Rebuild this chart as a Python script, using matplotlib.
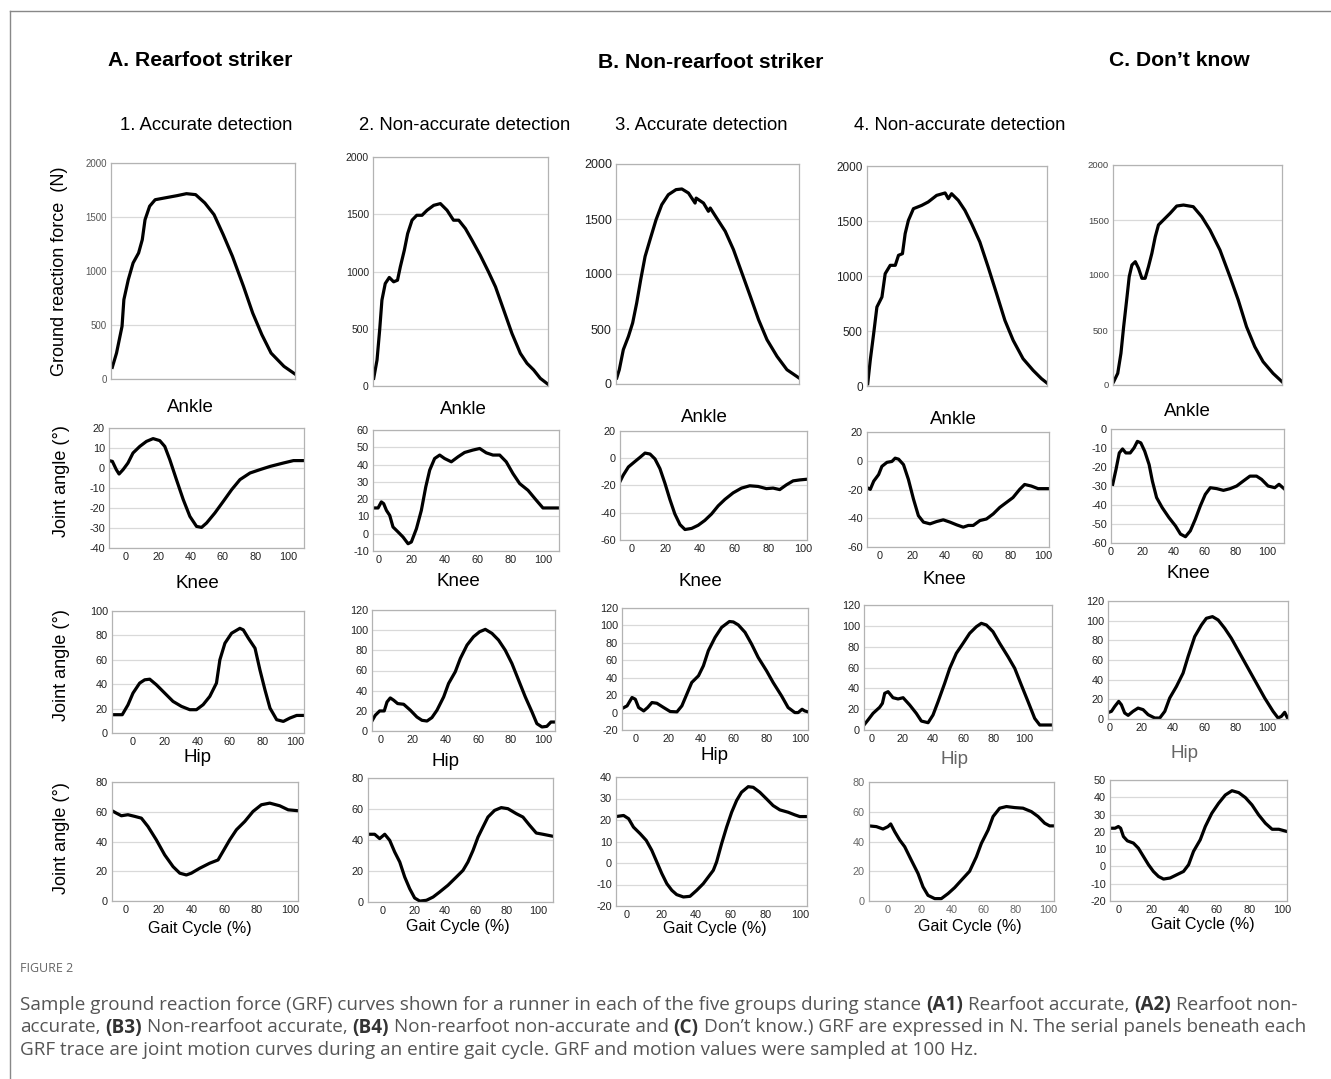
import matplotlib
matplotlib.use("Agg")
import matplotlib.pyplot as plt
from matplotlib.lines import Line2D

plt.rcParams["font.family"] = ["Liberation Sans", "DejaVu Sans"]
plt.rcParams["axes.unicode_minus"] = False

W, H = 1331, 1079

# ── Data ──────────────────────────────────────────
# GRF traces: x = % of stance, y = N
A1_GRF_X = [0.7, 3, 6, 7, 9.4, 12, 15, 17, 18.5, 21, 24, 29, 36, 41, 46, 51, 56, 61, 66, 72, 77, 82, 87, 94, 100]
A1_GRF_Y = [108, 240, 488, 735, 920, 1074, 1167, 1290, 1475, 1600, 1660, 1676, 1698, 1716, 1707, 1630, 1522, 1336, 1136, 858, 611, 410, 240, 117, 46]
A2_GRF_X = [0.4, 2.3, 3.8, 5.1, 7, 9.3, 11.8, 14, 15.6, 17.9, 19.8, 22.3, 25, 28, 30.9, 34.7, 38.5, 42.3, 46, 49,
            52.8, 56.6, 61.3, 66, 70, 74.7, 79.4, 84.2, 88, 91.8, 95.6, 100]
A2_GRF_Y = [67, 227, 488, 750, 895, 948, 910, 924, 1040, 1186, 1331, 1448, 1491, 1491, 1535, 1578, 1593, 1535, 1448, 1448,
            1375, 1273, 1142, 997, 866, 663, 459, 285, 198, 140, 67, 15]
B3_GRF_X = [0.4, 1.8, 4, 6.8, 9.1, 11.3, 13.5, 15.9, 18.6, 21.9, 25, 28.6, 32.8, 36, 39.6, 43.2, 43.8, 47.8, 50.5, 51.5,
            55, 59.7, 64.2, 68.8, 73.4, 77.9, 82.5, 88, 93.4, 100]
B3_GRF_Y = [55, 130, 312, 433, 555, 736, 948, 1160, 1312, 1494, 1630, 1721, 1767, 1773, 1736, 1645, 1690, 1645, 1570, 1600,
            1509, 1388, 1221, 1009, 797, 585, 403, 251, 130, 55]
B4_GRF_X = [0.4, 1.8, 3.7, 5.5, 8.3, 10.1, 12.9, 15.7, 17.5, 19.7, 21.2, 23, 25.8, 30.4, 34, 38.7, 43.4, 45.2, 47, 50.7,
            54.4, 58.1, 62.7, 67.3, 72, 76.6, 81.2, 86.7, 92.3, 96.9, 100]
B4_GRF_Y = [21, 233, 476, 718, 809, 1021, 1097, 1097, 1188, 1203, 1385, 1506, 1612, 1642, 1673, 1733, 1755, 1703, 1748, 1688,
            1597, 1476, 1309, 1082, 839, 597, 415, 248, 142, 67, 27]
C_GRF_X = [0.4, 2.8, 4.7, 6.3, 8.3, 9.6, 11.2, 13.2, 15.1, 17.1, 19, 21, 23, 25, 26.9, 30.8, 33.8, 37.7, 41.7, 47.5,
           52.5, 57.4, 63.3, 69.2, 74.1, 79, 83.9, 88.8, 94.7, 100]
C_GRF_Y = [30, 106, 288, 530, 803, 985, 1091, 1121, 1061, 970, 970, 1076, 1197, 1348, 1455, 1515, 1561, 1627, 1636, 1621,
           1530, 1409, 1227, 985, 773, 530, 348, 212, 106, 30]

# Joint angles: x = gait cycle (%), y = degrees
A1_ANKLE_X = [-10.3, -8.2, -5.8, -4.1, -1.6, 1.4, 4.5, 8.7, 12.8, 16.9, 21, 24.1, 27.2, 31.3, 35.5, 39.6, 43.7, 46.8, 49.9,
              55, 60.2, 65.4, 70.5, 76.7, 82.9, 89.1, 97.3, 103.5, 110]
A1_ANKLE_Y = [3.7, 3.3, -0.8, -3, -0.8, 2.5, 7.5, 10.8, 13.3, 14.7, 13.7, 10.8, 4.2, -5.8, -15.8, -24.2, -29.2, -29.7, -27.5,
              -22.5, -16.7, -10.8, -5.8, -2.5, -0.8, 0.8, 2.5, 3.7, 3.7]
A1_KNEE_X = [-12.5, -6.2, -2.7, 0.4, 4.5, 7.6, 10.7, 14.8, 19.9, 25, 30.2, 35.3, 39.4, 43.5, 47.6, 51.7, 53.8, 56.9, 61,
             66.1, 68.2, 71.3, 75.4, 78.4, 81.5, 84.6, 88.7, 92.8, 96.9, 101, 105.5]
A1_KNEE_Y = [15, 15, 23, 32.7, 40.9, 43.6, 44.1, 39.5, 32.7, 25.9, 21.8, 19.1, 19.1, 23.2, 30, 40.9, 60, 73.6, 81.8,
             85.8, 84.5, 77.7, 69.5, 51.8, 35.4, 20.4, 10.9, 9.5, 12.3, 14.4, 14.4]
A1_HIP_X = [-8.3, -5.7, -2.6, 1.4, 5.5, 9.6, 13.6, 18.7, 23.8, 28.9, 33, 37, 40, 45.1, 51.2, 56.3, 59.3, 63.4, 67.5,
            72.6, 77.6, 82.7, 87.8, 93.9, 99, 105]
A1_HIP_Y = [60.7, 59.1, 57.3, 58, 56.9, 55.7, 50.1, 41.1, 31, 23.1, 18.7, 17.5, 18.7, 22, 25.4, 27.6, 33.3, 41.1, 47.9,
            53.5, 60.2, 64.7, 65.8, 64, 61.3, 60.7]

A2_ANKLE_X = [-3.7, -0.6, 1.4, 2.8, 4.5, 6.5, 8.5, 11.6, 14.6, 17.7, 19.7, 22.8, 25.8, 28.5, 30.9, 33.9, 37, 40, 44.1,
              48.2, 52.2, 57.3, 61.4, 65.4, 69.5, 73.6, 77.6, 81.7, 85.8, 90.9, 96, 100, 109.8]
A2_ANKLE_Y = [14.9, 14.9, 18.4, 17.4, 13.5, 10.6, 3.9, 1, -1.9, -5.8, -4.8, 2.9, 13.5, 27.1, 36.8, 43.5, 45.5, 43.5, 41.6,
              44.5, 47, 48.4, 49.3, 46.8, 45.5, 45.5, 41.6, 34.8, 29, 25.1, 19.3, 14.9, 14.9]
A2_KNEE_X = [-5.1, -3.1, -0.4, 2.4, 4.1, 6.1, 8.2, 10.6, 14.3, 18.4, 22.4, 25.5, 28.6, 31.6, 34.7, 38.8, 41.8, 45.9, 49,
             53.1, 57.1, 60.8, 64.3, 68.4, 72.4, 76.5, 80.6, 84.7, 88.8, 92.9, 95.9, 99, 102, 104.5, 107]
A2_KNEE_Y = [10, 15.6, 19.9, 19.9, 28.8, 32.8, 30.5, 27.2, 26.5, 20.6, 13.9, 10.6, 9.9, 13.3, 20.6, 33.8, 47.1, 58.7, 71.9,
             85.2, 93.5, 98.4, 100.8, 96.8, 90.2, 80.2, 67, 50.4, 33.8, 18.9, 7.3, 4, 4.6, 8.9, 8.9]
A2_HIP_X = [-9.7, -5.4, -2.2, 1.1, 4.3, 7.5, 10.8, 14, 17.2, 20.4, 23.7, 28, 32.3, 36.6, 41.9, 47.3, 51.6, 54.8, 58.1,
            61.3, 64.5, 67.7, 72, 76.3, 80.6, 86, 90.3, 94.6, 98.9, 103.2, 109.7]
A2_HIP_Y = [43.7, 43.7, 40.9, 43.7, 39.8, 32.3, 25.8, 16.1, 8.6, 2.6, 0.6, 1.1, 3.2, 6.5, 10.8, 16.1, 20.4, 25.8, 33.3,
            41.9, 48.4, 54.8, 59.1, 60.9, 60.2, 57, 54.8, 49.5, 44.5, 43.7, 42.4]

B3_ANKLE_X = [-6.8, -4.9, -1.9, 1.9, 4.9, 7.8, 10.7, 13.6, 16.5, 19.4, 22.3, 25.2, 28.2, 31.1, 35, 38.8, 42.7, 46.6, 50.5,
              54.4, 59.2, 64.1, 68.9, 73.8, 78.6, 82.5, 86.4, 90.3, 94.2, 98.1, 102.3]
B3_ANKLE_Y = [-17.1, -12.4, -6.4, -2.4, 0.7, 3.8, 3.1, -0.5, -7.6, -18.3, -30.2, -40.9, -48.7, -52.3, -51.5, -49.2, -45.6,
              -40.9, -34.9, -30.2, -25.4, -21.9, -20.2, -20.7, -22.3, -21.9, -23, -19.5, -16.6, -15.9, -15.4]
B3_KNEE_X = [-8.1, -5, -2, 0, 2, 5.1, 7.5, 10.1, 13.1, 17.2, 21.2, 25.3, 28.3, 31.3, 34.3, 38.4, 41.4, 44.4, 48.5, 52.5,
             57.2, 59.6, 62.6, 66.7, 70.7, 74.7, 79.8, 83.8, 88.9, 92.9, 97, 99, 101.4, 103, 105]
B3_KNEE_Y = [4.6, 7.7, 17.3, 15.3, 5.8, 1.9, 5.8, 11.5, 10.7, 5.8, 1.2, 0.8, 7.7, 21.1, 34.5, 42.2, 53.7, 71, 86.3, 97.8,
             104.5, 104, 100.6, 92.1, 78.6, 63.3, 47.9, 34.5, 19.2, 5.8, 0, 0, 3.8, 1.9, 0.8]
B3_HIP_X = [-6.3, -1.9, 1, 3.8, 7.7, 11.2, 14.4, 17.3, 20.2, 23.1, 26, 28.8, 32.7, 36.5, 40.4, 44.2, 47.1, 50, 51.9, 54.8,
            57.7, 60.6, 63.5, 66.3, 70.2, 73.1, 76.9, 80.8, 84.6, 88.5, 93.3, 97.1, 100, 104.2]
B3_HIP_Y = [21.6, 22.1, 20.6, 16.7, 13.6, 10.5, 5.9, 0.5, -4.9, -9.6, -12.7, -14.7, -15.8, -15.5, -12.7, -9.6, -6.5, -3.4,
            0.5, 9, 16.7, 23.6, 29.1, 32.9, 35.5, 35.2, 32.9, 29.8, 26.7, 24.7, 23.6, 22.4, 21.6, 21.6]

B4_ANKLE_X = [-7.5, -5.5, -3.4, -0.4, 1.6, 4.7, 7.7, 9.7, 11.8, 14.8, 17.8, 20.9, 23.9, 27, 31, 35, 39.1, 43.2, 47.3,
              51.3, 54.4, 57.4, 61.5, 65.5, 69.6, 73.6, 77.7, 81.7, 85.8, 88.8, 92.9, 97, 103.7]
B4_ANKLE_Y = [-18.7, -19.9, -14.2, -9.6, -3.9, -1.1, -0.5, 1.8, 1.1, -2.7, -13, -26.7, -38.2, -42.7, -43.9, -42.3, -41.1,
              -42.7, -44.6, -46.2, -45, -45, -41.6, -40.5, -37, -32.5, -29, -25.6, -19.9, -16.5, -17.6, -19.4, -19.4]
B4_KNEE_X = [-4.8, -2.2, 1.1, 5.4, 7.2, 8.7, 10.9, 14.1, 17.4, 20.7, 25, 29.3, 32.6, 37, 40.2, 43.5, 47.8, 51.1, 55.4,
             59.8, 64.1, 68.5, 71.7, 75, 79.3, 83.7, 89.1, 93.5, 97.8, 102.2, 106.5, 109.8, 117.8]
B4_KNEE_Y = [4.8, 9.6, 16, 21.8, 25.6, 35.2, 36.8, 31, 29.8, 31, 24, 16, 8.6, 7, 14.4, 27.2, 44.8, 59.2, 73.6,
             83.2, 92.8, 99.2, 102.4, 100.8, 94.4, 83.2, 70.4, 59.2, 43.2, 27.2, 11.2, 4.8, 4.8]
B4_HIP_X = [-11.4, -6.8, -2.7, 0.4, 2.1, 4.6, 7.7, 10.8, 14.9, 19.1, 22.2, 25.3, 29.5, 33.6, 37.8, 41.9, 46.1, 51.2, 55.4,
            58.5, 62.7, 65.8, 69.9, 74.1, 79.3, 84.4, 89.6, 93.8, 97.9, 101, 103.7]
B4_HIP_Y = [50.5, 50, 48.4, 50, 51.8, 46.6, 41, 36.5, 27.5, 18.5, 9.5, 3.8, 1.6, 1.6, 5, 9, 14, 20, 29.7,
            38.7, 47.7, 56.8, 62.4, 63.5, 62.8, 62.4, 60.1, 56.8, 52.3, 50.5, 50.5]

C_ANKLE_X = [1.1, 3.2, 5.3, 7.4, 9.5, 12.3, 14.8, 16.9, 19.1, 21.6, 24.4, 26.5, 29.2, 32.8, 37.1, 41.3, 44.5, 47.7, 50.8,
             54, 57.2, 60.4, 63.6, 67.8, 72, 76.3, 80.5, 84.7, 89, 93.2, 96.4, 100.6, 104.9, 107.6, 110.8]
C_ANKLE_Y = [-29.1, -21.3, -12.6, -10.5, -12.6, -12.6, -9.9, -6.5, -7.3, -11.7, -18.7, -27.4, -36.1, -41.4, -46.6, -51,
             -55.3, -56.7, -53.6, -47.5, -40.5, -34.4, -30.9, -31.4, -32.3, -31.4, -30, -27.4, -24.8, -24.8, -26.5, -30,
             -30.9, -29.1, -31.4]
C_KNEE_X = [-0.6, 1.1, 3.2, 5.7, 7.4, 9.5, 11.7, 14.8, 18, 21.2, 24.4, 28.6, 31.8, 35, 38.1, 42.4, 46.6, 49.8, 54, 58.3,
            61.4, 65.3, 68.9, 73.1, 77.3, 82.6, 87.9, 93.2, 98.5, 103.8, 107, 109.1, 111.2, 113.3]
C_KNEE_Y = [6.8, 7.8, 12.8, 17.9, 14.5, 6.1, 3.7, 7.8, 11.1, 9.5, 4.4, 1, 1, 7.8, 21.3, 33.1, 46.6, 63.5, 83.8, 95.6,
            102.4, 104.1, 100.7, 92.2, 82.1, 66.9, 51.7, 36.5, 21.3, 7.8, 1, 2.7, 6.8, 0]
C_HIP_X = [-5.1, -2, 0, 1.4, 3.1, 5.5, 9.2, 12.2, 15.3, 18.4, 21.4, 24.5, 27.6, 31.6, 35.7, 39.8, 42.9, 45.9, 50, 53.1,
           57.1, 61.2, 65.3, 69.4, 73.5, 77.6, 81.6, 85.7, 89.8, 93.9, 98, 103]
C_HIP_Y = [22.1, 22.1, 23.1, 22.1, 17.3, 14.8, 13.5, 10.6, 5.8, 1, -2.9, -5.8, -7.3, -6.7, -4.8, -2.9, 1, 8.7, 15.4, 23.1,
           30.8, 36.5, 41.3, 43.8, 42.7, 39.8, 35.6, 29.8, 25, 21.5, 21.5, 20.2]

GAIT_TICKS = [0, 20, 40, 60, 80, 100]
GRF_TICKS = [0, 500, 1000, 1500, 2000]

# ── Layout (pixel boxes: left, top, right, bottom) ─
FRAME = "#b3b3b3"
GRID = "#d9d9d9"


def add_box(fig, l, t, r, b):
    return fig.add_axes([l / W, 1 - b / H, (r - l) / W, (b - t) / H])


def style(ax, fs, color="#222222"):
    for s in ax.spines.values():
        s.set_color(FRAME)
        s.set_linewidth(0.9)
    ax.yaxis.grid(True, color=GRID, lw=0.9)
    ax.set_axisbelow(True)
    ax.tick_params(length=0, labelsize=fs, labelcolor=color, pad=3)


fig = plt.figure(figsize=(W / 100, H / 100), dpi=100)

# GRF row
grf = [
    (A1_GRF_X, A1_GRF_Y, (111, 163, 295, 379), 7.0, "#555555"),
    (A2_GRF_X, A2_GRF_Y, (373, 157, 548, 386), 7.5, "#222222"),
    (B3_GRF_X, B3_GRF_Y, (616, 164, 799, 384), 9.0, "#222222"),
    (B4_GRF_X, B4_GRF_Y, (867, 166, 1047, 386), 8.5, "#222222"),
    (C_GRF_X, C_GRF_Y, (1113, 165, 1282, 385), 6.8, "#444444"),
]
for x, y, box, fs, col in grf:
    ax = add_box(fig, *box)
    ax.plot(x, y, color="black", lw=2.3)
    ax.set_xlim(0, 100)
    ax.set_ylim(0, 2000)
    ax.set_yticks(GRF_TICKS)
    ax.set_xticks([])
    style(ax, fs, col)

# joint rows: (x, y, box, xlim, yticks)
joints = [
    (A1_ANKLE_X, A1_ANKLE_Y, (109, 428, 304, 548), (-10.3, 110), range(-40, 21, 10)),
    (A1_KNEE_X, A1_KNEE_Y, (112, 611, 304, 733), (-12.5, 105.5), range(0, 101, 20)),
    (A1_HIP_X, A1_HIP_Y, (112, 782, 298, 901), (-8.3, 105), range(0, 81, 20)),
    (A2_ANKLE_X, A2_ANKLE_Y, (373, 430, 559, 551), (-3.7, 109.8), range(-10, 61, 10)),
    (A2_KNEE_X, A2_KNEE_Y, (372, 610, 555, 731), (-5.1, 107), range(0, 121, 20)),
    (A2_HIP_X, A2_HIP_Y, (368, 778, 553, 902), (-9.7, 109.7), range(0, 81, 20)),
    (B3_ANKLE_X, B3_ANKLE_Y, (620, 431, 807, 540), (-6.8, 102.3), range(-60, 21, 20)),
    (B3_KNEE_X, B3_KNEE_Y, (622, 608, 808, 730), (-8.1, 105), range(-20, 121, 20)),
    (B3_HIP_X, B3_HIP_Y, (616, 777, 807, 906), (-6.3, 104.2), range(-20, 41, 10)),
    (B4_ANKLE_X, B4_ANKLE_Y, (867, 432, 1049, 547), (-7.5, 103.7), range(-60, 21, 20)),
    (B4_KNEE_X, B4_KNEE_Y, (864, 605, 1052, 730), (-4.8, 117.8), range(0, 121, 20)),
    (B4_HIP_X, B4_HIP_Y, (869, 782, 1054, 901), (-11.4, 103.7), range(0, 81, 20)),
    (C_ANKLE_X, C_ANKLE_Y, (1111, 429, 1284, 543), (0.4, 110.8), range(-60, 1, 10)),
    (C_KNEE_X, C_KNEE_Y, (1108, 601, 1288, 719), (-1.1, 113.3), range(0, 121, 20)),
    (C_HIP_X, C_HIP_Y, (1110, 780, 1287, 901), (-5.1, 103), range(-20, 51, 10)),
]
for i, (x, y, box, xlim, yt) in enumerate(joints):
    ax = add_box(fig, *box)
    ax.plot(x, y, color="black", lw=2.3)
    yt = list(yt)
    ax.set_xlim(*xlim)
    ax.set_ylim(yt[0], yt[-1])
    ax.set_yticks(yt)
    ax.set_xticks(GAIT_TICKS)
    col = "#666666" if i == 11 else "#222222"
    style(ax, 7.8, col)


def ftext(x, y, s, **kw):
    return fig.text(x / W, 1 - y / H, s, ha=kw.pop("ha", "center"), va=kw.pop("va", "center"), **kw)


# headers
ftext(200, 60, "A. Rearfoot striker", fontsize=15.2, fontweight="bold")
ftext(711, 63, "B. Non-rearfoot striker", fontsize=15.2, fontweight="bold")
ftext(1179, 60, "C. Don\u2019t know", fontsize=15.2, fontweight="bold")
for cx, s in [(206, "1. Accurate detection"), (465, "2. Non-accurate detection"),
              (701, "3. Accurate detection"), (960, "4. Non-accurate detection")]:
    ftext(cx, 126, s, fontsize=13.3)

# joint titles
for cx, cy in [(190, 407), (463, 410), (704, 417), (953, 420), (1187, 411)]:
    ftext(cx, cy, "Ankle", fontsize=13.5)
for cx, cy in [(197, 584), (458, 582), (700, 582), (944, 580), (1188, 574)]:
    ftext(cx, cy, "Knee", fontsize=13.5)
for cx, cy, c in [(197, 757, "black"), (445, 761, "black"), (715, 755, "black"),
                  (954, 760, "#666666"), (1184, 753, "#666666")]:
    ftext(cx, cy, "Hip", fontsize=13.5, color=c)
for cx, cy in [(200, 928), (458, 927), (715, 929), (970, 926), (1203, 925)]:
    ftext(cx, cy, "Gait Cycle (%)", fontsize=11.5)

# y labels
ftext(60, 271, "Ground reaction force  (N)", fontsize=13, rotation=90)
for cy in [481, 665, 838]:
    ftext(62, cy, "Joint angle (\u00b0)", fontsize=13, rotation=90)

# frame around the figure panel
fig.add_artist(Line2D([10 / W, 1], [1 - 11 / H, 1 - 11 / H], color="#888888", lw=1))
fig.add_artist(Line2D([10 / W, 10 / W], [1 - 11 / H, 0], color="#888888", lw=1))

# caption, with the bold group keys
CAP_FONT = dict(fontsize=13.55, color="#555555", family=["Open Sans", "DejaVu Sans"])
CAP = [
    [("Sample ground reaction force (GRF) curves shown for a runner in each of the five groups during stance", False),
     ("(A1)", True), ("Rearfoot accurate,", False), ("(A2)", True), ("Rearfoot non-", False)],
    [("accurate,", False), ("(B3)", True), ("Non-rearfoot accurate,", False), ("(B4)", True),
     ("Non-rearfoot non-accurate and", False), ("(C)", True),
     ("Don\u2019t know.) GRF are expressed in N. The serial panels beneath each", False)],
    [("GRF trace are joint motion curves during an entire gait cycle. GRF and motion values were sampled at 100 Hz.", False)],
]
ftext(20, 968, "FIGURE 2", fontsize=9, color="#666666", ha="left", family=["Open Sans", "DejaVu Sans"])

renderer = fig.canvas.get_renderer()
probe = ftext(0, 0, "a a", **CAP_FONT)
w_sp = probe.get_window_extent(renderer).width
probe.set_text("aa")
w_sp -= probe.get_window_extent(renderer).width
probe.remove()

for k, parts in enumerate(CAP):
    cur = 20
    for s, bold in parts:
        t = ftext(cur, 1010 + 22.5 * k, s, ha="left", va="baseline",
                  fontweight="bold" if bold else "normal", **CAP_FONT)
        if bold:
            t.set_color("#333333")
        cur += t.get_window_extent(renderer).width + w_sp

fig.savefig("out.png", dpi=100)
